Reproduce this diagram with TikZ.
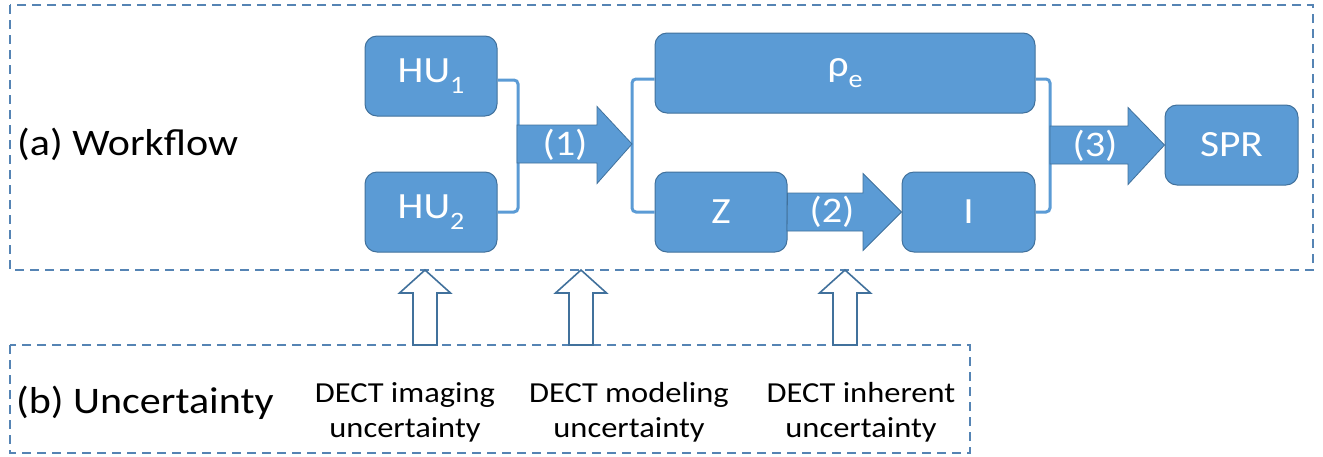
\documentclass[tikz,border=0pt]{standalone}
\usepackage{fontspec}
\setmainfont{Carlito}[FakeStretch=1.12]
\usetikzlibrary{calc}
\definecolor{boxblue}{HTML}{5B9BD5}
\definecolor{edgeblue}{HTML}{41719C}
\definecolor{dashblue}{HTML}{5584B4}
\newcommand{\mysub}[1]{\raisebox{-0.3em}{\fontsize{25}{25}\selectfont #1}}
\tikzset{
  blk/.style={draw=edgeblue, line width=1pt, fill=boxblue, rounded corners=12pt,
    text=white, font=\fontsize{37}{37}\selectfont, inner sep=0pt, anchor=center},
  brk/.style={draw=boxblue, line width=3pt, rounded corners=4pt},
  bigarrow/.style={fill=boxblue, draw=edgeblue, line width=0.8pt},
  arrlabel/.style={text=white, font=\fontsize{36}{36}\selectfont, inner sep=0pt},
  hollow/.style={fill=white, draw=edgeblue, line width=1.6pt, line join=miter},
  dbox/.style={draw=dashblue, line width=1.8pt, dash pattern=on 9pt off 6pt},
  title/.style={font=\fontsize{37.5}{37.5}\selectfont, inner sep=0pt, anchor=base west},
  unc/.style={font=\fontsize{29}{35}\selectfont, inner sep=0pt, align=center, anchor=base}
}
\begin{document}
\begin{tikzpicture}[x=1pt,y=-1pt]
\useasboundingbox (0,0) rectangle (1323,456);
% dashed frames
\draw[dbox] (10,5) rectangle (1313,270);
\draw[dbox] (10,345) rectangle (970,453);
% boxes
\node[blk, minimum width=132pt, minimum height=80pt] (hu1) at (431,76) {HU\mysub{1}};
\node[blk, minimum width=132pt, minimum height=80pt] (hu2) at (431,212) {HU\mysub{2}};
\node[blk, minimum width=380pt, minimum height=80pt] (rho) at (845,73) {ρ\mysub{e}};
\node[blk, minimum width=132pt, minimum height=80pt] (z) at (721,212) {Z};
\node[blk, minimum width=133pt, minimum height=80pt] (i) at (968.5,212) {I};
\node[blk, minimum width=133pt, minimum height=80pt] (spr) at (1231.5,145) {SPR};
% brackets
\coordinate (b1) at (518,144);
\coordinate (b2) at (632,144);
\coordinate (b3) at (1050,145);
\draw[brk] ($(hu1.east)+(0,4)$) -- ($(hu1.east -| b1)+(0,4)$) -- (hu2.east -| b1) -- (hu2.east);
\draw[brk] ($(rho.west)+(0,6)$) -- ($(rho.west -| b2)+(0,6)$) -- (z.west -| b2) -- (z.west);
\draw[brk] ($(rho.east)+(0,6)$) -- ($(rho.east -| b3)+(0,6)$) -- (i.east -| b3) -- (i.east);
% block arrows
\draw[bigarrow] (b1) ++(-1,-19) -- (597,125) -- (597,106.5) -- (b2) -- (597,183.5) -- (597,163) -- (517,163) -- cycle;
\node[arrlabel] (l1) at (565,145) {(1)};
\draw[bigarrow] (z.east) ++(0,-19) -- (863,193) -- (863,173.5) -- (i.west) -- (863,250.5) -- (863,231) -- (787,231) -- cycle;
\node[arrlabel] (l2) at (832,212) {(2)};
\draw[bigarrow] (b3) ++(0,-19) -- (1128,126) -- (1128,107.5) -- (spr.west) -- (1128,184.5) -- (1128,164) -- (1050,164) -- cycle;
\node[arrlabel] (l3) at (1095,146) {(3)};
% titles
\node[title] (ta) at (17,155) {(a) Workflow};
\node[title] (tb) at (16,413) {(b) Uncertainty};
% uncertainty labels
\node[unc] (u1) at (405,437) {DECT imaging\\uncertainty};
\node[unc] (u2) at (629,437) {DECT modeling\\uncertainty};
\node[unc] (u3) at (861,437) {DECT inherent\\uncertainty};
% hollow arrows
\foreach \cx/\nm in {425/h1, 581/h2, 845/h3}{
  \coordinate (\nm top) at (\cx,270);
  \draw[hollow] (\nm top) -- (\cx+25.5,293) -- (\cx+12,293) -- (\cx+12,345) -- (\cx-12,345) -- (\cx-12,293) -- (\cx-25.5,293) -- cycle;
}
\end{tikzpicture}
\end{document}
